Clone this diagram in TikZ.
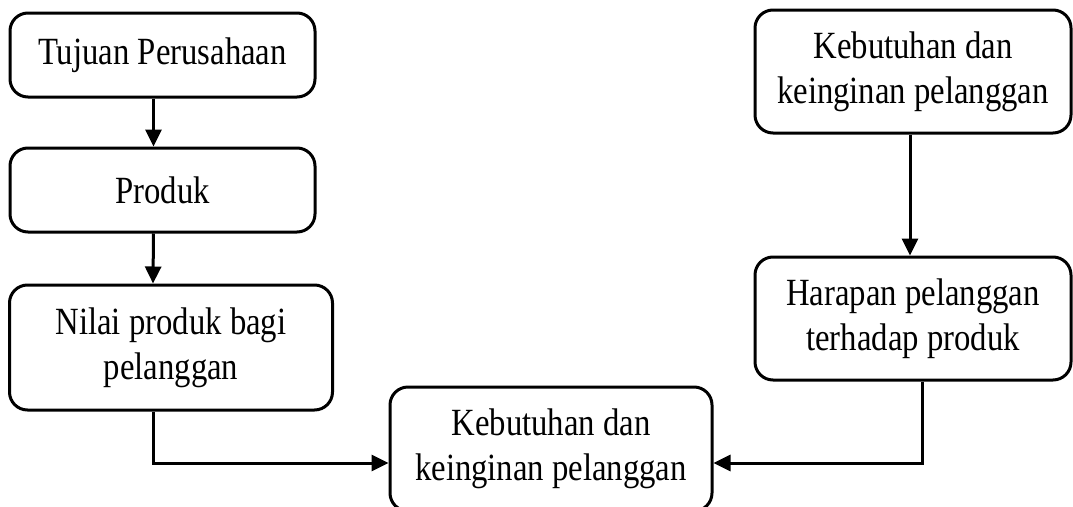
\documentclass[tikz,border=0pt]{standalone}
\usepackage{fontspec}
\newfontfamily\tnr[FakeStretch=0.85]{Liberation Serif}
\usetikzlibrary{arrows.meta}
\tikzset{
  box/.style={draw=black, line width=3pt, rounded corners=18pt, rectangle,
    inner sep=0pt, align=center, font=\tnr\fontsize{38.5}{45}\selectfont},
  arr/.style={draw=black, line width=3pt, -{Triangle[length=17pt,width=16pt]}}
}
\begin{document}
\begin{tikzpicture}[x=1pt, y=-1pt]
\useasboundingbox (0,0) rectangle (1073,506);
\clip (0,0) rectangle (1073,506);
\node[box, minimum width=305pt, minimum height=84pt] (b1) at (162.5,55) {Tujuan Perusahaan};
\node[box, minimum width=305pt, minimum height=84pt] (b2) at (162.5,190) {Produk};
\node[box, minimum width=323pt, minimum height=125pt] (b3) at (171,347.5) {Nilai produk bagi\\pelanggan};
\node[box, minimum width=316pt, minimum height=123pt] (b4) at (913,71.5) {Kebutuhan dan\\keinginan pelanggan};
\node[box, minimum width=316pt, minimum height=123pt] (b5) at (913,318.5) {Harapan pelanggan\\terhadap produk};
\node[box, minimum width=322pt, minimum height=124pt] (b6) at (551,449) {Kebutuhan dan\\keinginan pelanggan};
\draw[arr] ([xshift=-9pt]b1.south) -- ([xshift=-9pt]b2.north);
\draw[arr] ([xshift=-9pt]b2.south) -- ([xshift=-18pt]b3.north);
\draw[arr] ([xshift=-3pt]b4.south) -- ([xshift=-3pt]b5.north);
\draw[arr] ([xshift=-18pt]b3.south) |- ([yshift=-14pt]b6.west);
\draw[arr] ([xshift=9pt]b5.south) |- ([yshift=-14pt]b6.east);
\end{tikzpicture}
\end{document}
